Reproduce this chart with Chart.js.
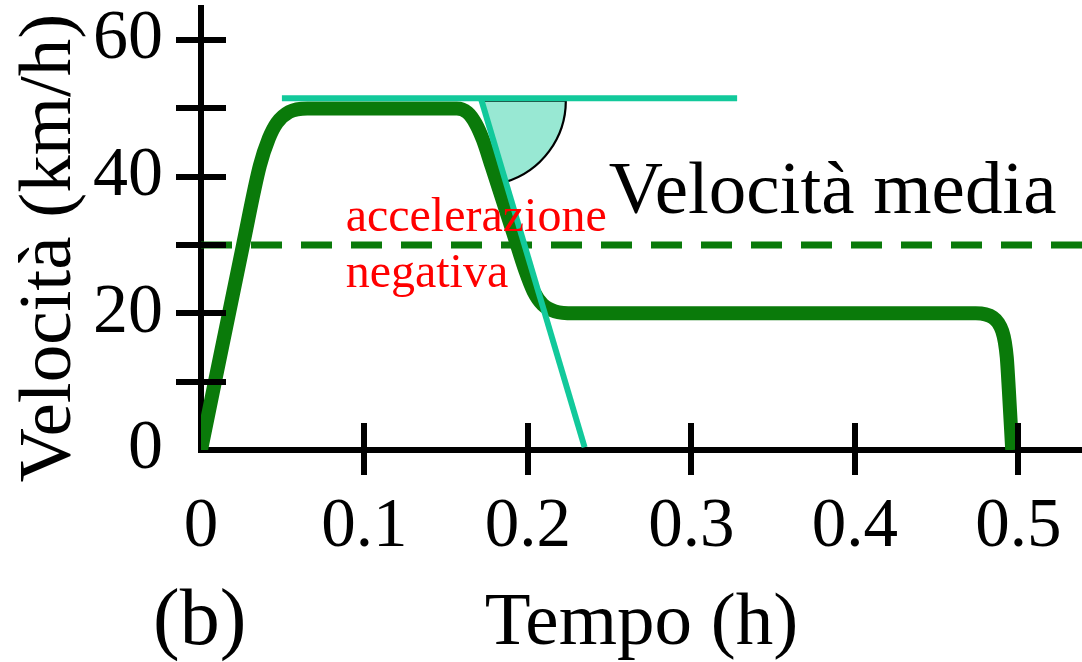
<!DOCTYPE html>
<html><head><meta charset="utf-8">
<script src="https://cdn.jsdelivr.net/npm/chart.js@4.4.0/dist/chart.umd.min.js"></script>
<style>html,body{margin:0;padding:0;background:#fff;overflow:hidden}#wrap{width:1082px;height:662px}</style>
</head><body><div id="wrap"><canvas id="c" width="1082" height="662"></canvas></div>
<script>
// ---- data ----
const timeH    = [0, 0.0257, 0.036, 0.0415, 0.0465, 0.054, 0.065, 0.1565, 0.163, 0.168, 0.1725, 0.178, 0.191, 0.1985, 0.2035, 0.209, 0.2165, 0.228, 0.474, 0.480, 0.4845, 0.4878, 0.4902, 0.4918, 0.4930, 0.4942, 0.4963];
const speedKmh = [0, 30, 41.6, 45.6, 47.9, 49.5, 50, 50, 49.4, 47.8, 45.4, 41.4, 31.8, 26.2, 23.2, 21.3, 20.3, 20, 20, 19.85, 19.4, 18.6, 17.4, 15.8, 13.5, 9, 0];
const avgTime = [0, 0.539];
const avgSpeed = [30, 30];
const tangentFlatTime = [0.0495, 0.328];
const tangentFlatSpeed = [51.5, 51.5];
const tangentSlopeTime = [0.1712, 0.2347];
const tangentSlopeSpeed = [51.5, 0.4];
const xTickValues = [0, 0.1, 0.2, 0.3, 0.4, 0.5];
const xTickLabels = ['0', '0.1', '0.2', '0.3', '0.4', '0.5'];
const yTickValues = [0, 10, 20, 30, 40, 50, 60];
const yTickLabels = ['0', '', '20', '', '40', '', '60'];
const xTitle = 'Tempo (h)';
const yTitle = 'Velocità (km/h)';
const avgLabel = 'Velocità media';
const accelLabel = ['accelerazione', 'negativa'];
const panelLabel = '(b)';
// annotation anchors (data coordinates)
const avgLabelAt = [0.2495, 34.7];
const accelLabelAt = [[0.0885, 32.1], [0.0885, 23.8]];

// ---- style ----
const SERIF = '"Liberation Serif", "Times New Roman", serif';
const GREEN = '#0a7a0a';
const TEAL = '#12c99b';
const WEDGE = '#98e8d3';

const pts = (xs, ys) => xs.map((v, i) => ({x: v, y: ys[i]}));

const crossTicks = {
  id: 'crossTicks',
  afterDatasetsDraw(chart) {
    const {ctx, chartArea: a, scales: {x, y}} = chart;
    ctx.save();
    ctx.strokeStyle = '#000'; ctx.lineWidth = 6; ctx.lineCap = 'butt';
    y.ticks.forEach(t => { if (t.value === 0) return; const py = Math.round(y.getPixelForValue(t.value));
      ctx.beginPath(); ctx.moveTo(a.left, py); ctx.lineTo(a.left + 25, py); ctx.stroke(); });
    x.ticks.forEach(t => { if (t.value === 0) return; const px = Math.round(x.getPixelForValue(t.value));
      ctx.beginPath(); ctx.moveTo(px, a.bottom); ctx.lineTo(px, a.bottom - 27); ctx.stroke(); });
    ctx.restore();
  }
};

const wedge = {
  id: 'wedge',
  beforeDatasetDraw(chart, args) {
    if (args.index !== 2) return;
    const {ctx, scales: {x, y}} = chart;
    const x0 = x.getPixelForValue(tangentSlopeTime[0]), y0 = y.getPixelForValue(tangentSlopeSpeed[0]) + 2.5;
    const x1 = x.getPixelForValue(tangentSlopeTime[1]), y1 = y.getPixelForValue(tangentSlopeSpeed[1]);
    const ang = Math.atan2(y1 - y0, x1 - x0);
    const R = 85;
    ctx.save();
    ctx.beginPath();
    ctx.moveTo(x0, y0);
    ctx.lineTo(x0 + R, y0);
    ctx.arc(x0, y0, R, 0, ang);
    ctx.closePath();
    ctx.fillStyle = WEDGE; ctx.fill();
    ctx.strokeStyle = '#000'; ctx.lineWidth = 2.2; ctx.stroke();
    ctx.restore();
  }
};

const labels = {
  id: 'labels',
  afterDatasetsDraw(chart) {
    const {ctx, chartArea: a, scales: {x, y}} = chart;
    ctx.save();
    ctx.textBaseline = 'alphabetic'; ctx.textAlign = 'left';
    ctx.fillStyle = '#000';
    ctx.font = '75px ' + SERIF;
    ctx.fillText(avgLabel, x.getPixelForValue(avgLabelAt[0]), y.getPixelForValue(avgLabelAt[1]));
    ctx.fillStyle = '#ff0000';
    ctx.font = '48px ' + SERIF;
    accelLabel.forEach((t, i) => ctx.fillText(t, x.getPixelForValue(accelLabelAt[i][0]), y.getPixelForValue(accelLabelAt[i][1])));
    ctx.fillStyle = '#000';
    ctx.font = '80px ' + SERIF;
    ctx.fillText(panelLabel, 153, 644);
    // y axis title
    ctx.save();
    ctx.translate(70, 248);
    ctx.rotate(-Math.PI / 2);
    ctx.textAlign = 'center';
    ctx.font = '75px ' + SERIF;
    ctx.fillText(yTitle, 0, 0);
    ctx.restore();
    ctx.restore();
  }
};

new Chart(document.getElementById('c'), {
  type: 'line',
  data: {
    datasets: [
      {data: pts(timeH, speedKmh), borderColor: GREEN, borderWidth: 14, pointRadius: 0, cubicInterpolationMode: 'monotone', borderJoinStyle: 'round', order: 4},
      {data: pts(avgTime, avgSpeed), borderColor: GREEN, borderWidth: 7, borderDash: [31, 19], pointRadius: 0, order: 5},
      {data: pts(tangentFlatTime, tangentFlatSpeed), borderColor: TEAL, borderWidth: 6, pointRadius: 0, order: 1},
      {data: pts(tangentSlopeTime, tangentSlopeSpeed), borderColor: TEAL, borderWidth: 6, pointRadius: 0, order: 0}
    ]
  },
  options: {
    responsive: false, animation: false, devicePixelRatio: 1,
    layout: {padding: {top: 8, right: 0, bottom: 0, left: 0}},
    plugins: {legend: {display: false}, tooltip: {enabled: false}},
    scales: {
      x: {
        type: 'linear', min: 0, max: 0.539,
        afterBuildTicks: s => { s.ticks = xTickValues.map(v => ({value: v})); },
        afterFit: s => { s.height = 212; s.paddingLeft = 0; s.paddingRight = 0; },
        border: {display: true, color: '#000', width: 6},
        grid: {drawOnChartArea: false, drawTicks: true, tickLength: 25, tickWidth: 6, lineWidth: 6,
               tickColor: c => (c.tick && c.tick.value === 0) ? 'rgba(0,0,0,0)' : '#000'},
        ticks: {autoSkip: false, maxRotation: 0, padding: 11, color: '#000', font: {family: SERIF, size: 69},
                callback: (v, i) => xTickLabels[i]},
        title: {display: true, text: xTitle, color: '#000', font: {family: SERIF, size: 75, lineHeight: 1}, padding: {top: 2, bottom: 0}}
      },
      y: {
        type: 'linear', min: 0, max: 64.7,
        afterBuildTicks: s => { s.ticks = yTickValues.map(v => ({value: v})); },
        afterFit: s => { s.width = 201; s.paddingTop = 0; s.paddingBottom = 0; },
        border: {display: true, color: '#000', width: 6},
        grid: {drawOnChartArea: false, drawTicks: true, tickLength: 25, tickWidth: 6, lineWidth: 6,
               tickColor: c => (c.tick && c.tick.value === 0) ? 'rgba(0,0,0,0)' : '#000'},
        ticks: {autoSkip: false, padding: 13, color: '#000', font: {family: SERIF, size: 70},
                callback: (v, i) => yTickLabels[i]},
        title: {display: false, text: yTitle}
      }
    }
  },
  plugins: [wedge, crossTicks, labels]
});
</script>
</body></html>
